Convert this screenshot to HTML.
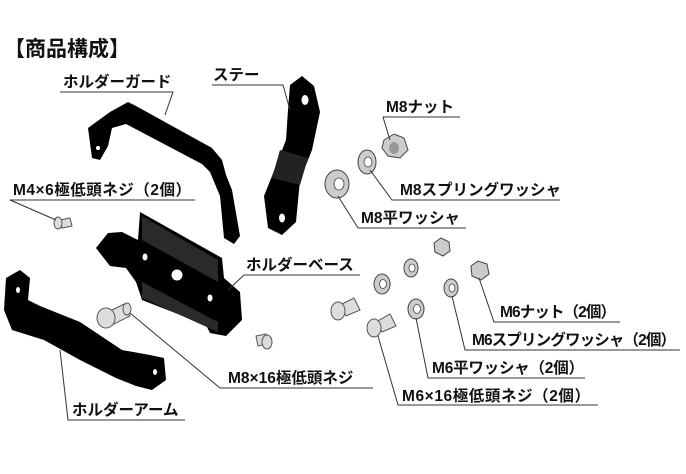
<!DOCTYPE html>
<html><head><meta charset="utf-8"><style>
html,body{margin:0;padding:0;background:#fff;}
svg{display:block;}
text{font-family:"Liberation Sans","Noto Sans CJK JP",sans-serif;font-weight:bold;fill:#111;}
</style></head><body>
<svg width="686" height="474" viewBox="0 0 686 474" xmlns="http://www.w3.org/2000/svg">
<text x="4" y="56" font-size="21">【商品構成】</text>

<!-- Holder guard -->
<path d="M92,158 L88,128 L110,112 L128,102 L136,106 L212,148 L222,160 L226,175 L232,190 L240,236 L234,244 L224,238 L220,196 L210,172 L202,164 L126,124 L112,128 L108,146 L100,160 Z" fill="#000"/>
<circle cx="98" cy="148" r="2" fill="#fff"/>
<!-- Stay -->
<path d="M290,85 L302,76 L314,86 L320,112 L312,150 L300,180 L296,222 L282,235 L268,228 L264,196 L272,176 L286,140 L288,110 Z" fill="#000"/>
<path d="M280,150 L308,158 L300,185 L272,178 Z" fill="#222"/>
<ellipse cx="305" cy="100" rx="3.5" ry="5" fill="#fff"/>
<ellipse cx="282" cy="218" rx="3" ry="4.5" fill="#fff"/>
<!-- Holder base -->
<path d="M96,248 L108,233 L122,232 L138,240 L140,212 L222,258 L224,278 L240,292 L242,320 L226,336 L210,333 L206,325 L142,300 L136,282 L126,268 L110,266 Z" fill="#000"/>
<path d="M142,216 L218,260 L218,282 L142,240 Z" fill="#2a2a2a"/>
<path d="M142,282 L218,322 L218,332 L142,298 Z" fill="#2a2a2a"/>
<circle cx="177" cy="275" r="5.5" fill="#fff"/>
<ellipse cx="145" cy="257" rx="2.5" ry="3.5" fill="#fff"/>
<ellipse cx="210" cy="298" rx="2.5" ry="3.5" fill="#fff"/>
<!-- Holder arm -->
<path d="M6,278 L20,270 L30,278 L28,300 L40,306 L80,322 L122,350 L150,355 L164,358 L166,380 L152,390 L136,386 L116,378 L80,360 L44,340 L12,330 L4,310 Z" fill="#000"/>
<ellipse cx="18" cy="290" rx="2" ry="3" fill="#fff"/>
<ellipse cx="155" cy="372" rx="2" ry="3" fill="#fff"/>

<!-- screws -->
<g fill="#ddd" stroke="#555" stroke-width="1">
<path d="M108,312 L124,304 L130,316 L114,324 Z"/>
<ellipse cx="127" cy="309" rx="4" ry="6"/>
<ellipse cx="106" cy="318" rx="9" ry="10"/>
<path d="M340,305 L354,298 L360,310 L346,316 Z"/>
<ellipse cx="338" cy="311" rx="7" ry="9"/>
<path d="M376,322 L390,314 L396,326 L382,332 Z"/>
<ellipse cx="374" cy="328" rx="7" ry="9"/>
<path d="M60,220 L70,218 L72,226 L62,228 Z"/>
<ellipse cx="58" cy="223" rx="4" ry="6"/>
<path d="M256,336 L266,334 L266,344 L258,346 Z"/>
<ellipse cx="267" cy="342" rx="5" ry="7"/>
</g>
<!-- washers -->
<g fill="#ccc" stroke="#444" stroke-width="1">
<ellipse cx="337" cy="184" rx="12" ry="14"/>
<ellipse cx="367" cy="162" rx="9" ry="12"/>
<ellipse cx="382" cy="284" rx="8" ry="10"/>
<ellipse cx="411" cy="268" rx="7" ry="9"/>
<ellipse cx="451" cy="288" rx="7" ry="9"/>
<ellipse cx="416" cy="309" rx="8" ry="10"/>
</g>
<g fill="#fff" stroke="#444" stroke-width="0.8">
<ellipse cx="339" cy="184" rx="5" ry="6"/>
<ellipse cx="368" cy="162" rx="4" ry="5"/>
<ellipse cx="383" cy="284" rx="3.5" ry="4.5"/>
<ellipse cx="412" cy="268" rx="3" ry="4"/>
<ellipse cx="452" cy="288" rx="3" ry="4"/>
<ellipse cx="417" cy="309" rx="3.5" ry="4.5"/>
</g>
<!-- nuts -->
<g fill="#ccc" stroke="#444" stroke-width="1">
<polygon points="384,140 394,134 404,138 408,150 400,158 388,156 382,148"/>
<polygon points="434,243 441,238 449,242 450,251 443,256 435,252"/>
<polygon points="471,266 478,261 487,264 489,274 481,280 472,276"/>
</g>
<ellipse cx="394" cy="148" rx="5" ry="6" fill="#999"/>

<!-- leader lines -->
<g stroke="#333" stroke-width="1" fill="none">
<polyline points="60,92 173,92 165,115"/>
<polyline points="212,85 283,85 290,110"/>
<polyline points="460,117 383,117 390,140"/>
<polyline points="560,200 392,200 370,170"/>
<polyline points="466,228 358,228 338,196"/>
<polyline points="195,200 10,200 56,220"/>
<polyline points="360,275 244,275 228,290"/>
<polyline points="620,322 494,322 479,278"/>
<polyline points="680,350 465,350 452,296"/>
<polyline points="585,378 428,378 416,318"/>
<polyline points="373,388 220,388 130,313"/>
<polyline points="598,405 398,405 378,336"/>
<polyline points="185,420 68,420 60,350"/>
</g>

<g font-size="15.5">
<text x="63" y="87">ホルダーガード</text>
<text x="213" y="80">ステー</text>
<text x="386" y="112">M8ナット</text>
<text x="400" y="195">M8スプリングワッシャ</text>
<text x="361" y="223">M8平ワッシャ</text>
<text x="13" y="195" textLength="178">M4×6極低頭ネジ（2個）</text>
<text x="246" y="270">ホルダーベース</text>
<text x="500" y="317" textLength="116">M6ナット（2個）</text>
<text x="472" y="345" textLength="204">M6スプリングワッシャ（2個）</text>
<text x="432" y="373" textLength="152">M6平ワッシャ（2個）</text>
<text x="228" y="383">M8×16極低頭ネジ</text>
<text x="402" y="401" textLength="188">M6×16極低頭ネジ（2個）</text>
<text x="72" y="415">ホルダーアーム</text>
</g>
</svg>
</body></html>
